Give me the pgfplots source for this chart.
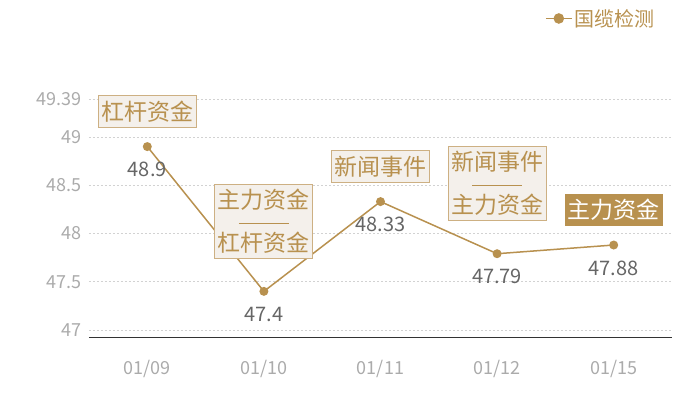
\documentclass[border=0pt]{standalone}
\usepackage{fontspec}
\setmainfont{Noto Sans CJK SC}
\usepackage{pgfplots}
\pgfplotsset{compat=1.18}
\definecolor{gold}{HTML}{B8914F}
\definecolor{boxfill}{HTML}{F4F0EB}
\definecolor{boxline}{HTML}{CDB083}
\definecolor{ticktext}{HTML}{ABABAB}
\definecolor{valtext}{HTML}{666666}
\definecolor{gridc}{HTML}{D2D2D2}
\definecolor{axisc}{HTML}{333333}

\newcommand{\sep}{\textcolor{gold}{\rule[6bp]{50bp}{1.5bp}}}

\begin{document}
\begin{tikzpicture}
\path[use as bounding box] (-89bp,-63bp) rectangle (611bp,337bp);
\begin{axis}[
    at={(0,0)}, anchor=south west,
    scale only axis, width=583bp, height=237.7bp,
    xmin=-0.5, xmax=4.5, ymin=46.927, ymax=49.39,
    xtick={0,1,2,3,4},
    xticklabels={01/09,01/10,01/11,01/12,01/15},
    ytick={47,47.5,48,48.5,49,49.39},
    yticklabels={47,47.5,48,48.5,49,49.39},
    ymajorgrids,
    grid style={gridc, dash pattern=on 2bp off 2bp, line width=0.6bp},
    axis x line*=bottom, axis y line*=left,
    x axis line style={draw=axisc, line width=1bp, -},
    y axis line style={draw=none},
    major tick length=0pt,
    tick style={draw=none},
    xticklabel style={font=\fontsize{18bp}{20bp}\selectfont, text=ticktext, yshift=-20bp},
    yticklabel style={font=\fontsize{18bp}{20bp}\selectfont, text=ticktext, xshift=-4bp},
    /pgf/number format/assume math mode=true,
    clip=false,
    legend style={draw=none, fill=none, at={(0.979,1.34)}, anchor=east,
        font=\fontsize{20bp}{22bp}\selectfont, text=gold},
    legend image code/.code={
        \draw[gold, line width=1.5bp] (-6bp,0bp) -- (20bp,0bp);
        \fill[gold] (7bp,0bp) circle (4.5bp);
    },
    nodes near coords,
    nodes near coords style={anchor=center, yshift=-23bp, text=valtext,
        font=\fontsize{20bp}{22bp}\selectfont},
]
\addplot[gold, line width=1.5bp, mark=*, mark size=3.7bp,
    mark options={fill=gold, draw=gold}] coordinates {
    (0,48.9) (1,47.4) (2,48.33) (3,47.79) (4,47.88)
};
\addlegendentry{国缆检测}

\tikzset{
  ann/.style={draw=boxline, fill=boxfill, text=gold, line width=1bp,
     inner xsep=3bp, inner ysep=5bp, align=center,
     font=\fontsize{23bp}{21.5bp}\selectfont},
  annd/.style={fill=gold, text=white, draw=none,
     inner xsep=3bp, inner ysep=5bp,
     font=\fontsize{23bp}{21.5bp}\selectfont},
}
\node[ann, yshift=35bp] at (axis cs:0,48.9) {杠杆资金};
\node[ann, yshift=70bp] at (axis cs:1,47.4) {主力资金\\\sep\\杠杆资金};
\node[ann, yshift=35bp] at (axis cs:2,48.33) {新闻事件};
\node[ann, yshift=70bp] at (axis cs:3,47.79) {新闻事件\\\sep\\主力资金};
\node[annd, yshift=35bp] at (axis cs:4,47.88) {主力资金};
\end{axis}
\end{tikzpicture}
\end{document}
